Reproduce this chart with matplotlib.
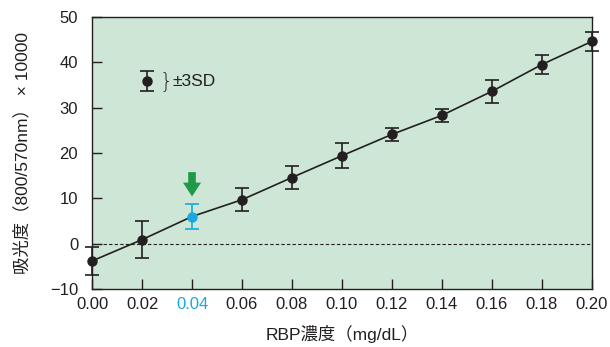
import matplotlib
matplotlib.use('Agg')
import matplotlib.pyplot as plt
import numpy as np

plt.rcParams['font.family'] = ['Liberation Sans', 'Noto Sans CJK JP', 'DejaVu Sans']

conc = [0.00, 0.02, 0.04, 0.06, 0.08, 0.10, 0.12, 0.14, 0.16, 0.18, 0.20]
absorb = [-3.8, 0.9, 6.0, 9.7, 14.6, 19.4, 24.1, 28.3, 33.6, 39.5, 44.6]
sd3 = [3.0, 4.0, 2.8, 2.5, 2.6, 2.8, 1.4, 1.4, 2.5, 2.1, 2.2]
xticks = [0.00, 0.02, 0.04, 0.06, 0.08, 0.10, 0.12, 0.14, 0.16, 0.18, 0.20]
yticks = [-10, 0, 10, 20, 30, 40, 50]
highlight = 0.04

bg = '#cde6d5'
blue = '#1aa8e2'
green = '#1f9a48'
dark = '#231f20'

fig = plt.figure(figsize=(6.1, 3.47), dpi=100)
ax = fig.add_axes([0.151, 0.167, 0.819, 0.784])
ax.set_facecolor(bg)

ax.axhline(0, color=dark, lw=0.8, ls=(0, (3, 2)), zorder=1)
ax.plot(conc, absorb, color=dark, lw=1.2, zorder=2, clip_on=False)

for x, y, e in zip(conc, absorb, sd3):
    c = blue if x == highlight else dark
    eb = ax.errorbar(x, y, yerr=e, fmt='o', color=c, ms=6.5, capsize=5,
                     elinewidth=1.2, capthick=1.2, zorder=3)
    for art in eb.lines[0:1] + tuple(eb.lines[1]) + tuple(eb.lines[2]):
        art.set_clip_on(False)

# arrow pointing to the highlighted point
i = conc.index(highlight)
ax.annotate('', xy=(highlight, absorb[i] + sd3[i] + 1.0), xytext=(highlight, absorb[i] + sd3[i] + 7.6),
            arrowprops=dict(arrowstyle='simple,head_width=1.3,head_length=1.0,tail_width=0.55',
                            color=green, lw=0), zorder=4)

# legend-like key
ax.errorbar(0.022, 35.8, yerr=2.2, fmt='o', color=dark, ms=6.5, capsize=5,
            elinewidth=1.2, capthick=1.2, zorder=3)
ax.text(0.0268, 35.8, '}', fontsize=15, va='center', ha='left', color=dark,
        family=['DejaVu Sans'], fontweight='light')
ax.text(0.0322, 35.8, '±3SD', fontsize=12.5, va='center', ha='left', color=dark)

ax.set_xlim(0, 0.20)
ax.set_ylim(-10, 50)
ax.set_xticks(xticks)
ax.set_xticklabels(['%.2f' % t for t in xticks])
ax.set_yticks(yticks)
ax.set_yticklabels([('−10' if t == -10 else str(t)) for t in yticks])
ax.tick_params(direction='in', length=7, width=1, labelsize=12, colors=dark)
ax.tick_params(axis='y', pad=10)
ax.tick_params(axis='x', pad=6)
for lab, t in zip(ax.get_xticklabels(), xticks):
    if t == highlight:
        lab.set_color(blue)
for s in ax.spines.values():
    s.set_color(dark)
    s.set_linewidth(1)

ax.set_xlabel('RBP濃度（mg/dL）', fontsize=12.5, labelpad=9, color=dark)
ax.set_ylabel('吸光度（800/570nm） × 10000', fontsize=12.5, labelpad=14, color=dark)

plt.savefig('out.png', dpi=100, facecolor='white')
